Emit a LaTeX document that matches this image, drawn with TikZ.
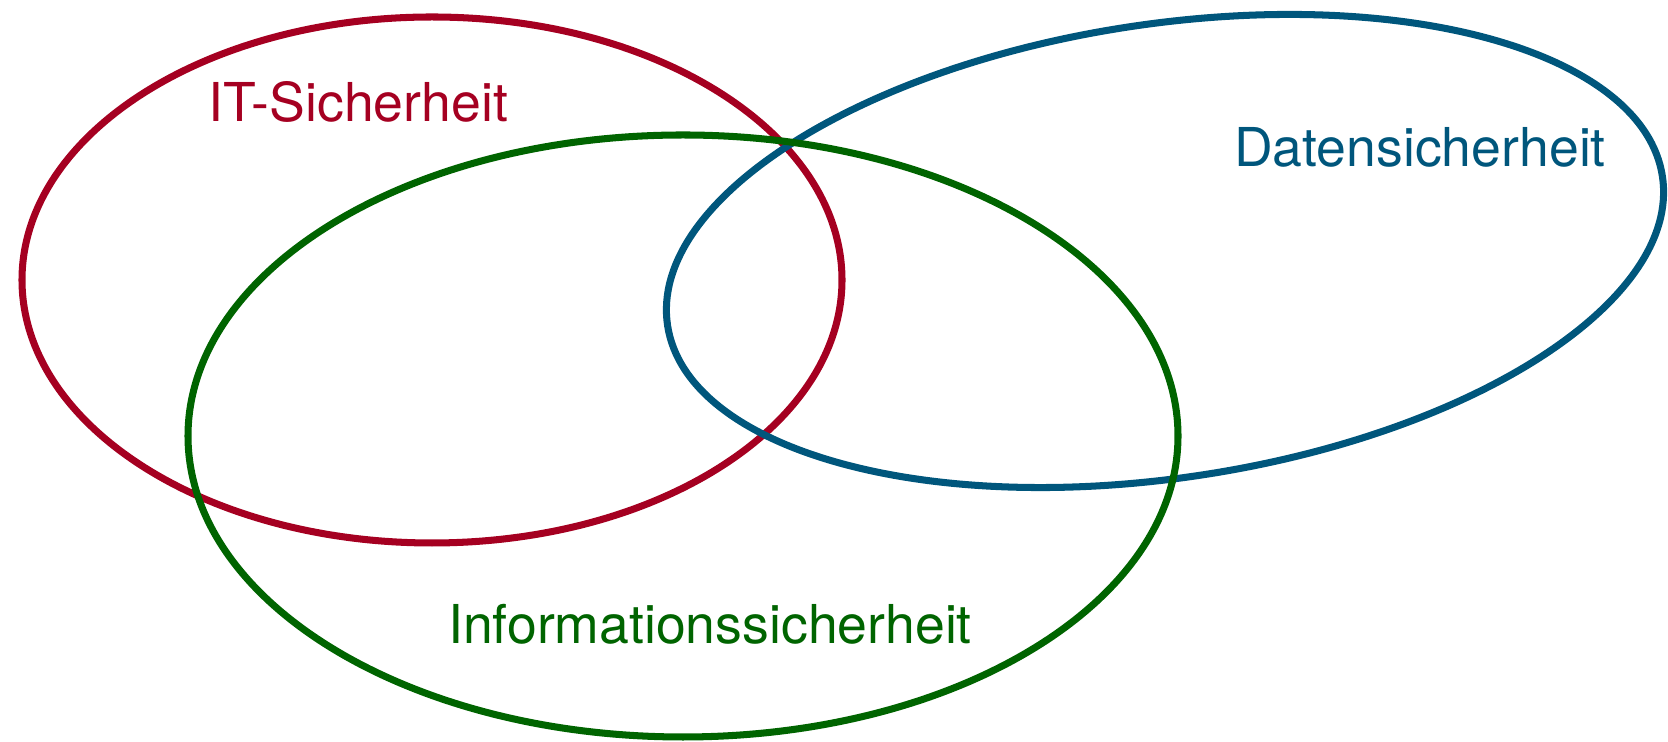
\documentclass[tikz,border=0pt]{standalone}
\usepackage{fontspec}
\setmainfont{TeX Gyre Heros}
\definecolor{itred}{HTML}{A50021}
\definecolor{infogreen}{HTML}{006400}
\definecolor{datblue}{HTML}{00567C}

\begin{document}
\begin{tikzpicture}[x=0.02cm,y=0.02cm,
                    set/.style={line width=4pt},
                    set label/.style={inner sep=0pt,font=\fontsize{30.5}{36}\selectfont}]
  \useasboundingbox (0,0) rectangle (1668,742);
  % sets
  \draw[set,itred] (432,462) ellipse [x radius=410,y radius=263];
  \draw[set,datblue] (1165,491) ellipse [x radius=503,y radius=227,rotate=8.5];
  \draw[set,infogreen] (683,306) ellipse [x radius=495,y radius=301];
  % labels
  \node[set label,text=itred] (it) at (358,640) {IT-Sicherheit};
  \node[set label,text=datblue] (dat) at (1420,595) {Datensicherheit};
  \node[set label,text=infogreen] (info) at (710,118) {Informationssicherheit};
\end{tikzpicture}
\end{document}
